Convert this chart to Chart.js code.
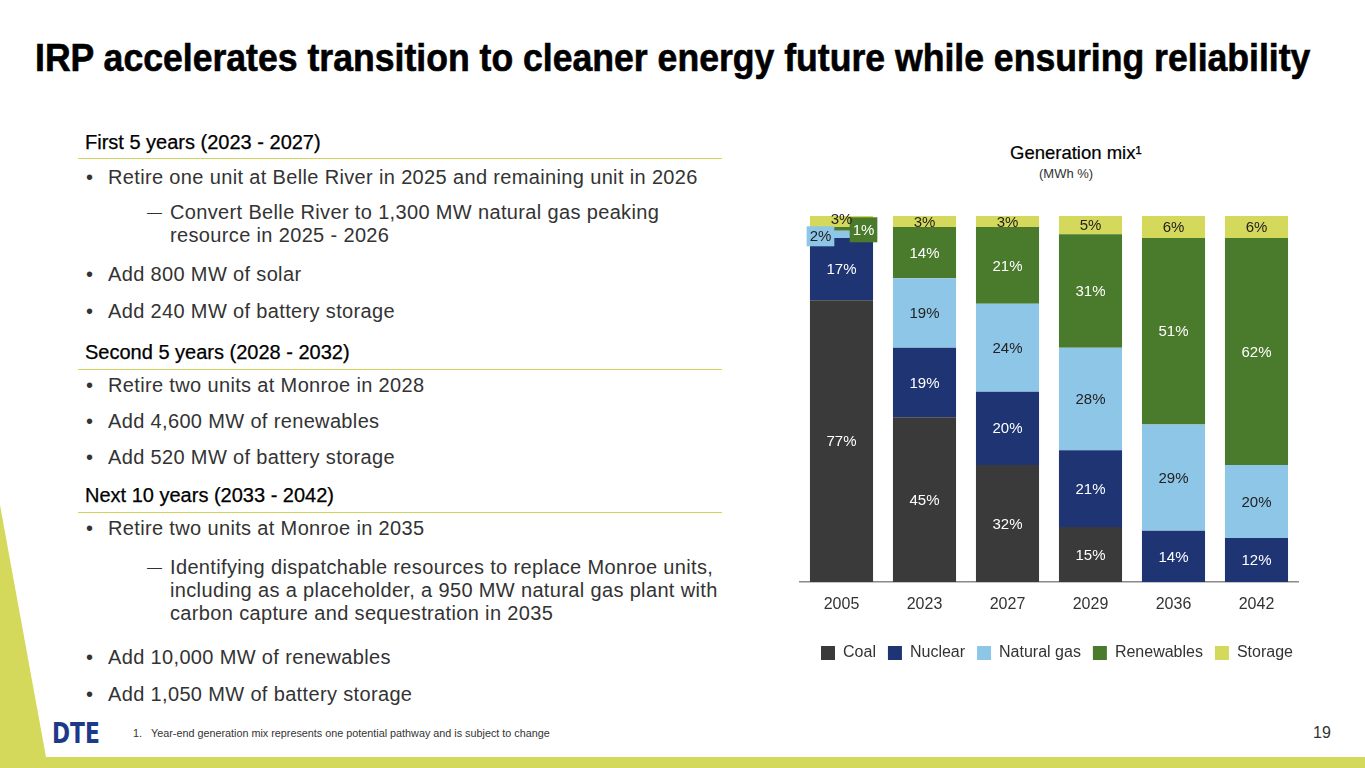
<!DOCTYPE html>
<html>
<head>
<meta charset="utf-8">
<script src="https://cdn.jsdelivr.net/npm/chart.js@4"></script>
<style>
  html, body { margin: 0; padding: 0; }
  body { width: 1365px; height: 768px; position: relative; overflow: hidden; background: #fff;
         font-family: "Liberation Sans", Arial, sans-serif; color: #333; }
  .abs { position: absolute; white-space: nowrap; }
  #title { left: 35px; top: 39px; font-size: 38px; line-height: 38px; font-weight: bold; color: #000;
           -webkit-text-stroke: 0.6px #000; transform-origin: 0 0; }
  .head { font-size: 20px; line-height: 22px; color: #000; left: 85px; -webkit-text-stroke: 0.25px #000; }
  .txt { font-size: 20px; line-height: 22px; color: #333; letter-spacing: 0.35px; }
  .bul { left: 86px; }
  .bt { left: 108px; }
  .dash { left: 147px; font-size: 15px; letter-spacing: 0; }
  .st { left: 170px; }
  .rule { position: absolute; left: 78px; width: 644px; height: 1.5px; background: #cfd45a; }
  #strip { position: absolute; left: 0; top: 757px; width: 1365px; height: 11px; background: #d5d95b; }
  #wedge { position: absolute; left: 0; top: 0; }
  #logo { left: 52px; top: 716px; font-family: "DejaVu Sans", sans-serif; font-size: 29px; line-height: 34px;
          font-weight: bold; color: #1d3a8a; transform: scaleX(0.75); transform-origin: 0 0; }
  #note { left: 133px; top: 726px; font-size: 10.8px; line-height: 14px; color: #333; }
  #page { left: 1313px; top: 724px; font-size: 16px; line-height: 18px; color: #333; }
  #mixTitle { left: 1010px; top: 142px; font-size: 18.5px; line-height: 22px; color: #000; -webkit-text-stroke: 0.2px #000; }
  #mixSub { left: 1039px; top: 166px; font-size: 13px; line-height: 16px; color: #333; }
  #chartBox { position: absolute; left: 790px; top: 200px; width: 530px; height: 471px; }
</style>
</head>
<body>
<svg id="wedge" width="60" height="768"><polygon points="0,505 46,757 0,757" fill="#d5d95b"/></svg>
<div id="strip"></div>

<div id="title" class="abs">IRP accelerates transition to cleaner energy future while ensuring reliability</div>

<div class="abs head" style="top:131px">First 5 years (2023 - 2027)</div>
<div class="rule" style="top:157.5px"></div>
<div class="abs txt bul" style="top:166px">•</div>
<div class="abs txt bt" style="top:166px">Retire one unit at Belle River in 2025 and remaining unit in 2026</div>
<div class="abs txt dash" style="top:201px">—</div>
<div class="abs txt st" style="top:201px">Convert Belle River to 1,300 MW natural gas peaking</div>
<div class="abs txt st" style="top:224px">resource in 2025 - 2026</div>
<div class="abs txt bul" style="top:263px">•</div>
<div class="abs txt bt" style="top:263px">Add 800 MW of solar</div>
<div class="abs txt bul" style="top:300px">•</div>
<div class="abs txt bt" style="top:300px">Add 240 MW of battery storage</div>

<div class="abs head" style="top:341px">Second 5 years (2028 - 2032)</div>
<div class="rule" style="top:368.5px"></div>
<div class="abs txt bul" style="top:374px">•</div>
<div class="abs txt bt" style="top:374px">Retire two units at Monroe in 2028</div>
<div class="abs txt bul" style="top:410px">•</div>
<div class="abs txt bt" style="top:410px">Add 4,600 MW of renewables</div>
<div class="abs txt bul" style="top:446px">•</div>
<div class="abs txt bt" style="top:446px">Add 520 MW of battery storage</div>

<div class="abs head" style="top:484px">Next 10 years (2033 - 2042)</div>
<div class="rule" style="top:511.5px"></div>
<div class="abs txt bul" style="top:517px">•</div>
<div class="abs txt bt" style="top:517px">Retire two units at Monroe in 2035</div>
<div class="abs txt dash" style="top:556px">—</div>
<div class="abs txt st" style="top:556px">Identifying dispatchable resources to replace Monroe units,</div>
<div class="abs txt st" style="top:579px">including as a placeholder, a 950 MW natural gas plant with</div>
<div class="abs txt st" style="top:602px">carbon capture and sequestration in 2035</div>
<div class="abs txt bul" style="top:646px">•</div>
<div class="abs txt bt" style="top:646px">Add 10,000 MW of renewables</div>
<div class="abs txt bul" style="top:683px">•</div>
<div class="abs txt bt" style="top:683px">Add 1,050 MW of battery storage</div>

<div id="logo" class="abs">DTE</div>
<div id="note" class="abs">1.&nbsp;&nbsp;&nbsp;Year-end generation mix represents one potential pathway and is subject to change</div>
<div id="page" class="abs">19</div>

<div id="mixTitle" class="abs">Generation mix¹</div>
<div id="mixSub" class="abs">(MWh %)</div>
<div id="chartBox"><canvas id="mixChart"></canvas></div>

<script>
// ==============================
//  DATA (MWh %, bottom to top)
// ==============================
const years = ["2005", "2023", "2027", "2029", "2036", "2042"];
const coal = [77, 45, 32, 15, 0, 0];
const nuclear = [17, 19, 20, 21, 14, 12];
const naturalGas = [2, 19, 24, 28, 29, 20];
const renewables = [1, 14, 21, 31, 51, 62];
const storage = [3, 3, 3, 5, 6, 6];

// squeeze the headline to the slide width
const titleEl = document.getElementById("title");
titleEl.style.transform = "scaleX(" + (1275 / titleEl.offsetWidth) + ")";

const FONT = "'Liberation Sans', Arial, sans-serif";

// small 2005 slices get pulled out into little boxes like on the slide
const callouts = {
    "2:0": { dx: -21, dy: 2, h: 20 },
    "3:0": { dx: 22, dy: 1, h: 25 },
    "4:0": { dx: 0, dy: -3 }
};

const segmentLabels = {
    id: "segmentLabels",
    afterDatasetsDraw(chart) {
        const ctx = chart.ctx;
        ctx.save();
        ctx.font = "15px " + FONT;
        ctx.textAlign = "center";
        ctx.textBaseline = "middle";
        chart.data.datasets.forEach((ds, di) => {
            chart.getDatasetMeta(di).data.forEach((bar, i) => {
                const v = ds.data[i];
                if (!v) return;
                const p = bar.getProps(["x", "y", "base"], true);
                let cx = p.x, cy = (p.y + p.base) / 2;
                const c = callouts[di + ":" + i];
                const text = v + "%";
                if (c) {
                    cx += c.dx; cy += c.dy;
                    if (c.h) {
                        const w = ctx.measureText(text).width + 6;
                        ctx.fillStyle = ds.backgroundColor;
                        ctx.fillRect(cx - w / 2, cy - c.h / 2, w, c.h);
                    }
                }
                ctx.fillStyle = ds.labelColor;
                ctx.fillText(text, cx, cy + 1);
            });
        });
        ctx.restore();
    }
};

function series(label, data, color, labelColor) {
    return { label, data, backgroundColor: color, labelColor, borderWidth: 0, stack: "mix" };
}

new Chart(document.getElementById("mixChart"), {
    type: "bar",
    data: {
        labels: years,
        datasets: [
            series("Coal", coal, "#3a3a3a", "#ffffff"),
            series("Nuclear", nuclear, "#1e3473", "#ffffff"),
            series("Natural gas", naturalGas, "#8ec6e8", "#222222"),
            series("Renewables", renewables, "#4a7a2b", "#ffffff"),
            series("Storage", storage, "#d5d95b", "#222222")
        ]
    },
    options: {
        responsive: true,
        maintainAspectRatio: false,
        animation: false,
        layout: { padding: { left: 10, right: 6, top: 16, bottom: 0 } },
        datasets: { bar: { barPercentage: 0.76, categoryPercentage: 1 } },
        scales: {
            x: {
                stacked: true,
                grid: { display: false, drawTicks: false },
                border: { display: true, color: "#8a8a8a", width: 1.5 },
                ticks: { color: "#333", font: { family: FONT, size: 16 }, padding: 13 },
                afterFit: (scale) => { scale.height = 51; }
            },
            // blank right-hand axis: only keeps the legend a little right of the bars, as on the slide
            y: {
                stacked: true, position: "right", min: 0, max: 100,
                grid: { display: false }, border: { display: false },
                ticks: { display: false },
                afterFit: (scale) => { scale.width = 16; }
            }
        },
        plugins: {
            legend: {
                position: "bottom",
                labels: {
                    boxWidth: 14,
                    boxHeight: 14,
                    padding: 12,
                    color: "#333",
                    font: { family: FONT, size: 16 }
                }
            },
            tooltip: { enabled: false }
        }
    },
    plugins: [segmentLabels]
});
</script>
</body>
</html>
